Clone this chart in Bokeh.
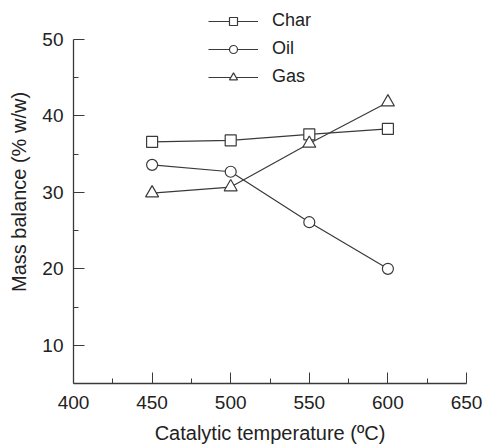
from bokeh.plotting import figure
from bokeh.models import Range1d, FixedTicker, Legend, LegendItem
from bokeh.embed import file_html
from bokeh.resources import INLINE

temps = [450, 500, 550, 600]
char = [36.6, 36.8, 37.6, 38.3]
oil = [33.6, 32.7, 26.1, 20.0]
gas = [29.9, 30.7, 36.4, 41.8]
x_ticks = [400, 450, 500, 550, 600, 650]
y_ticks = [10, 20, 30, 40, 50]

FONT = "Liberation Sans"
INK = "#3a3a3a"

# frame reaches the top edge so the legend above the "50" tick is not clipped;
# the y axis line is bounded to 5..50
p = figure(width=485, height=448, output_backend="svg", toolbar_location=None,
           x_range=Range1d(400, 650), y_range=Range1d(5, 55.1),
           min_border_left=73, min_border_right=19, min_border_top=0, min_border_bottom=65)
p.outline_line_color = None
p.xgrid.visible = False
p.ygrid.visible = False
p.background_fill_color = "white"
p.border_fill_color = "white"

r_items = []
series = [("Char", char, "square", 11), ("Oil", oil, "circle", 11), ("Gas", gas, "triangle", 13)]
for name, vals, marker, sz in series:
    ln = p.line(temps, vals, line_color=INK, line_width=1.2)
    sc = p.scatter(temps, vals, marker=marker, size=sz, fill_color="white",
                   line_color=INK, line_width=1.2)
    r_items.append(LegendItem(label=name, renderers=[ln, sc]))

for ax in (p.xaxis[0], p.yaxis[0]):
    ax.axis_line_color = INK
    ax.axis_line_width = 1.3
    ax.major_tick_line_color = INK
    ax.minor_tick_line_color = INK
    ax.major_tick_in = 11
    ax.major_tick_out = 0
    ax.minor_tick_in = 5
    ax.minor_tick_out = 0
    ax.major_label_text_font = FONT
    ax.major_label_text_font_size = "19px"
    ax.major_label_text_color = "#222222"
    ax.axis_label_text_font = FONT
    ax.axis_label_text_font_size = "20px"
    ax.axis_label_text_font_style = "normal"
    ax.axis_label_text_color = "#222222"

p.xaxis[0].ticker = FixedTicker(ticks=x_ticks, minor_ticks=[425, 475, 525, 575, 625])
p.yaxis[0].ticker = FixedTicker(ticks=y_ticks, minor_ticks=[15, 25, 35, 45])
p.yaxis[0].bounds = (5, 50)
p.xaxis[0].axis_label = "Catalytic temperature (ºC)"
p.yaxis[0].axis_label = "Mass balance (% w/w)"
p.xaxis[0].major_label_standoff = 12
p.yaxis[0].major_label_standoff = 10
p.xaxis[0].axis_label_standoff = 10
p.yaxis[0].axis_label_standoff = 9

legend = Legend(items=r_items, location=(135, 296), padding=0, margin=0,
                glyph_width=50, glyph_height=20, spacing=7, label_standoff=14,
                label_text_font=FONT, label_text_font_size="18px",
                label_text_color="#222222", border_line_alpha=0,
                background_fill_alpha=0)
p.add_layout(legend, "center")

open("out.html", "w").write(file_html(p, INLINE))
